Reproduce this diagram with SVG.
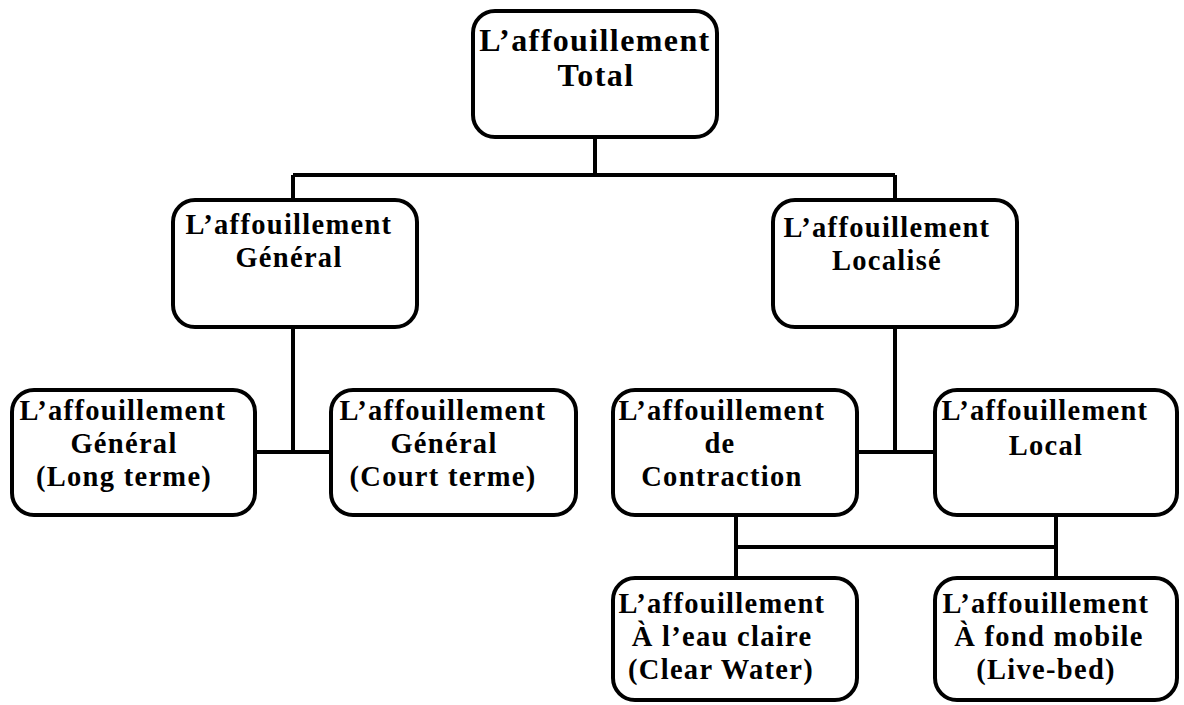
<svg xmlns="http://www.w3.org/2000/svg" width="1184" height="705" viewBox="0 0 1184 705">
<style>
.box{fill:#fff;stroke:#000;stroke-width:4}
.lbl{font-family:"Liberation Serif","DejaVu Serif",serif;font-weight:bold;font-size:28.5px;letter-spacing:1.3px;fill:#000;text-anchor:middle}
.big{font-size:32px;letter-spacing:1.4px}
.con{fill:none;stroke:#000;stroke-width:4}
</style>
<rect width="1184" height="705" fill="#fff"/>
<g id="connectors">
<path class="con" d="M595 137V175M293 175H895M293 175V200M895 175V200"/>
<path class="con" d="M293 327V452M255 452H331"/>
<path class="con" d="M895 327V452M857 452H935"/>
<path class="con" d="M736 515V578M1056 515V578M736 547H1056"/>
</g>
<g id="n-total">
<rect class="box" x="473" y="11" width="244" height="126" rx="22"/>
<text class="lbl big" x="595" y="51">L’affouillement</text>
<text class="lbl big" x="596" y="86">Total</text>
</g>
<g id="n-general">
<rect class="box" x="173" y="200" width="244" height="127" rx="22"/>
<text class="lbl" x="289" y="234">L’affouillement</text>
<text class="lbl" x="289" y="267">Général</text>
</g>
<g id="n-localise">
<rect class="box" x="773" y="200" width="244" height="127" rx="22"/>
<text class="lbl" x="887" y="237">L’affouillement</text>
<text class="lbl" x="887" y="270">Localisé</text>
</g>
<g id="n-long">
<rect class="box" x="12" y="390" width="243" height="125" rx="22"/>
<text class="lbl" x="123" y="420">L’affouillement</text>
<text class="lbl" x="124" y="453">Général</text>
<text class="lbl" x="124" y="486">(Long terme)</text>
</g>
<g id="n-court">
<rect class="box" x="331" y="390" width="245" height="125" rx="22"/>
<text class="lbl" x="443" y="420">L’affouillement</text>
<text class="lbl" x="444" y="453">Général</text>
<text class="lbl" x="443" y="486">(Court terme)</text>
</g>
<g id="n-contraction">
<rect class="box" x="613" y="390" width="244" height="125" rx="22"/>
<text class="lbl" x="722" y="420">L’affouillement</text>
<text class="lbl" x="720" y="453">de</text>
<text class="lbl" x="722" y="486">Contraction</text>
</g>
<g id="n-local">
<rect class="box" x="935" y="390" width="242" height="125" rx="22"/>
<text class="lbl" x="1045" y="420">L’affouillement</text>
<text class="lbl" x="1046" y="455">Local</text>
</g>
<g id="n-clear">
<rect class="box" x="613" y="578" width="244" height="122" rx="22"/>
<text class="lbl" x="722" y="613">L’affouillement</text>
<text class="lbl" x="722" y="646">À l’eau claire</text>
<text class="lbl" x="721" y="679">(Clear Water)</text>
</g>
<g id="n-livebed">
<rect class="box" x="935" y="578" width="242" height="122" rx="22"/>
<text class="lbl" x="1046" y="613">L’affouillement</text>
<text class="lbl" x="1049" y="646">À fond mobile</text>
<text class="lbl" x="1046" y="679">(Live-bed)</text>
</g>
</svg>
